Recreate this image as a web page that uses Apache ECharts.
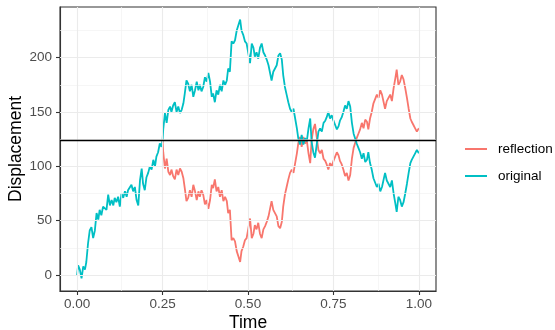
<!DOCTYPE html>
<html>
<head>
<meta charset="utf-8">
<script src="https://cdn.jsdelivr.net/npm/echarts@6/dist/echarts.min.js"></script>
<style>html,body{margin:0;padding:0;background:#fff;}#c{width:555px;height:330px;}</style>
</head>
<body>
<div id="c"></div>
<script>
// ---- data ----
const time = [0, .003, .008, .013, .018, .023, .027, .032, .037, .042, .047, .052, .057, .062, .066, .071, .076, .081, .086, .091, .096,
  .101, .106, .110, .115, .120, .125, .130, .135, .140, .145, .149, .154, .159, .164, .169, .174, .179, .184, .189, .193,
  .198, .203, .208, .213, .218, .223, .228, .232, .237, .242, .247, .250, .252, .257, .262, .267, .272, .276, .281, .286,
  .291, .296, .301, .306, .311, .315, .320, .325, .330, .335, .340, .345, .350, .355, .359, .364, .369, .374, .379, .384,
  .389, .394, .398, .403, .408, .413, .418, .423, .428, .433, .438, .442, .447, .452, .457, .462, .467, .472, .477, .481,
  .486, .491, .496, .501, .506, .511, .516, .520, .525, .530, .535, .540, .545, .550, .555, .560, .564, .569, .574, .579,
  .584, .589, .594, .599, .603, .608, .613, .618, .623, .628, .633, .638, .643, .647, .652, .657, .662, .667, .672, .677,
  .682, .686, .691, .696, .701, .706, .711, .716, .721, .726, .730, .735, .740, .745, .750, .755, .760, .765, .769, .774,
  .779, .784, .789, .794, .799, .804, .809, .813, .818, .823, .828, .833, .838, .843, .848, .852, .857, .862, .867, .872,
  .877, .882, .887, .892, .896, .901, .906, .911, .916, .921, .926, .931, .935, .940, .945, .950, .955, .960, .965, .970,
  .975, .979, .984, .989, .994, 1.000];

const original = [0, 9, 5, -3, 8, 5, 12, 29, 41, 44, 34, 41, 57, 51, 60, 55, 63, 64, 60, 74, 64,
  69, 64, 71, 67, 72, 63, 75, 71, 77, 72, 78, 77, 83, 77, 81, 69, 64, 87, 98, 84,
  78, 90, 94, 100, 97, 106, 100, 109, 113, 121, 118, 123.6, 134, 149, 140, 152, 155, 150, 156, 159,
  150, 155, 149, 152, 158, 167, 179, 176, 169, 175, 164, 170, 178, 170, 175, 169, 173, 182, 178, 186,
  178, 164, 167, 159, 170, 166, 175, 169, 179, 175, 179, 190, 187, 215, 213, 216, 225, 230, 235, 225,
  221, 215, 213, 204, 195, 213, 209, 201, 205, 199, 209, 213, 205, 202, 198, 193, 192, 179, 187, 188,
  193, 202, 204, 198, 184, 173, 166, 159, 153, 150, 153, 144, 135, 126, 120, 129, 120, 126, 123, 135,
  144, 123, 113, 108, 120, 132, 135, 132, 140, 142, 145, 150, 144, 147, 142, 138, 134, 137, 142, 145,
  150, 156, 153, 160, 155, 140, 130, 126, 121, 117, 113, 107, 112, 104, 106, 113, 103, 97, 89, 90,
  81, 84, 77, 81, 80, 94, 87, 84, 81, 87, 75, 66, 58, 72, 69, 63, 67, 75, 84, 94,
  103, 106, 109, 112, 115, 112];

// reflection starts at the first hitting time of the barrier (index 52 of time)
const reflection = [123.6, 113, 98, 107, 95, 92, 97, 91, 88,
  97, 92, 98, 95, 89, 80, 68, 71, 78, 72, 83, 77, 69, 77, 72, 78, 74, 65, 69, 61,
  69, 83, 80, 88, 77, 81, 72, 78, 68, 72, 68, 57, 60, 32, 34, 31, 22, 17, 12, 22,
  26, 32, 34, 43, 52, 34, 38, 46, 42, 48, 38, 34, 42, 45, 49, 54, 55, 68, 60, 59,
  54, 45, 43, 49, 63, 74, 81, 88, 94, 97, 94, 103, 112, 121, 127, 118, 127, 121, 124, 112,
  103, 124, 134, 139, 127, 115, 112, 115, 107, 105, 102, 97, 103, 100, 105, 109, 113, 110, 105, 102,
  97, 91, 94, 87, 92, 107, 117, 121, 126, 130, 134, 140, 135, 143, 141, 134, 144, 150, 158, 157,
  166, 163, 170, 166, 167, 153, 160, 163, 166, 160, 172, 181, 189, 175, 178, 184, 180, 172, 163, 153,
  144, 141, 138, 135, 132, 135];
const reflectionStart = 52;

const barrier = 123.6;
const xTicks = [0, 0.25, 0.5, 0.75, 1];
const xMinor = [0.125, 0.375, 0.625, 0.875];
const yTicks = [0, 50, 100, 150, 200];
const yMinor = [25, 75, 125, 175, 225];

// ---- build ----
const origData = time.map((t, i) => [t, original[i]]);
const reflData = reflection.map((v, i) => [time[reflectionStart + i], v]);

const FONT = 'Liberation Sans, Arial, sans-serif';
const chart = echarts.init(document.getElementById('c'), null, {renderer: 'canvas'});

const gridLines = [];
const minorStyle = {color: '#F2F2F2', width: 0.7, type: 'solid'};
const majorStyle = {color: '#EBEBEB', width: 1.1, type: 'solid'};
xMinor.forEach(v => gridLines.push({xAxis: v, lineStyle: minorStyle}));
yMinor.forEach(v => gridLines.push({yAxis: v, lineStyle: minorStyle}));
xTicks.forEach(v => gridLines.push({xAxis: v, lineStyle: majorStyle}));
yTicks.forEach(v => gridLines.push({yAxis: v, lineStyle: majorStyle}));

const axisLineStyle = {show: true, onZero: false, lineStyle: {color: '#333333', width: 1.1}};

chart.setOption({
  animation: false,
  backgroundColor: '#fff',
  grid: {left: 60, top: 7, width: 376, height: 284, containLabel: false, outerBoundsMode: 'none',
    show: true, borderColor: '#333333', borderWidth: 1.1, backgroundColor: 'transparent'},
  xAxis: {
    type: 'value', min: -0.05, max: 1.05,
    name: 'Time', nameLocation: 'middle', nameGap: 23, nameMoveOverlap: false,
    nameTextStyle: {fontSize: 17.5, color: '#000', fontFamily: FONT},
    axisLine: axisLineStyle,
    splitLine: {show: false},
    axisTick: {show: true, customValues: xTicks, length: 4, lineStyle: {color: '#333333', width: 1.1}},
    axisLabel: {customValues: xTicks, formatter: v => v.toFixed(2), color: '#4D4D4D', fontSize: 13.5, fontFamily: FONT, margin: 6}
  },
  yAxis: {
    type: 'value', min: -14.7, max: 246.6,
    name: 'Displacement', nameLocation: 'middle', nameGap: 35, nameRotate: 90, nameMoveOverlap: false,
    nameTextStyle: {fontSize: 17.5, color: '#000', fontFamily: FONT},
    axisLine: axisLineStyle,
    splitLine: {show: false},
    axisTick: {show: true, customValues: yTicks, length: 4, lineStyle: {color: '#333333', width: 1.1}},
    axisLabel: {customValues: yTicks, color: '#4D4D4D', fontSize: 13.5, fontFamily: FONT, margin: 8}
  },
  legend: {
    data: ['reflection', 'original'],
    orient: 'vertical', left: 460, top: 137,
    itemWidth: 22, itemHeight: 2, itemGap: 13, icon: 'rect',
    textStyle: {fontSize: 13.5, color: '#000', fontFamily: FONT, padding: [0, 0, 0, 6]}
  },
  series: [
    {
      name: 'gridlines', type: 'line', data: [], z: 0, silent: true,
      markLine: {silent: true, symbol: ['none', 'none'], label: {show: false}, animation: false, data: gridLines}
    },
    {
      name: 'reflection', type: 'line', data: reflData, z: 2, showSymbol: false, symbol: 'none',
      color: '#F8766D', lineStyle: {width: 1.8, color: '#F8766D'}
    },
    {
      name: 'original', type: 'line', data: origData, z: 3, showSymbol: false, symbol: 'none',
      color: '#00BFC4', lineStyle: {width: 1.8, color: '#00BFC4'}
    },
    {
      name: 'barrier', type: 'line', data: [], z: 4, silent: true,
      markLine: {silent: true, symbol: ['none', 'none'], label: {show: false}, animation: false,
        data: [{yAxis: barrier, lineStyle: {color: '#000', width: 1.3, type: 'solid'}}]}
    }
  ]
});
</script>
</body>
</html>
